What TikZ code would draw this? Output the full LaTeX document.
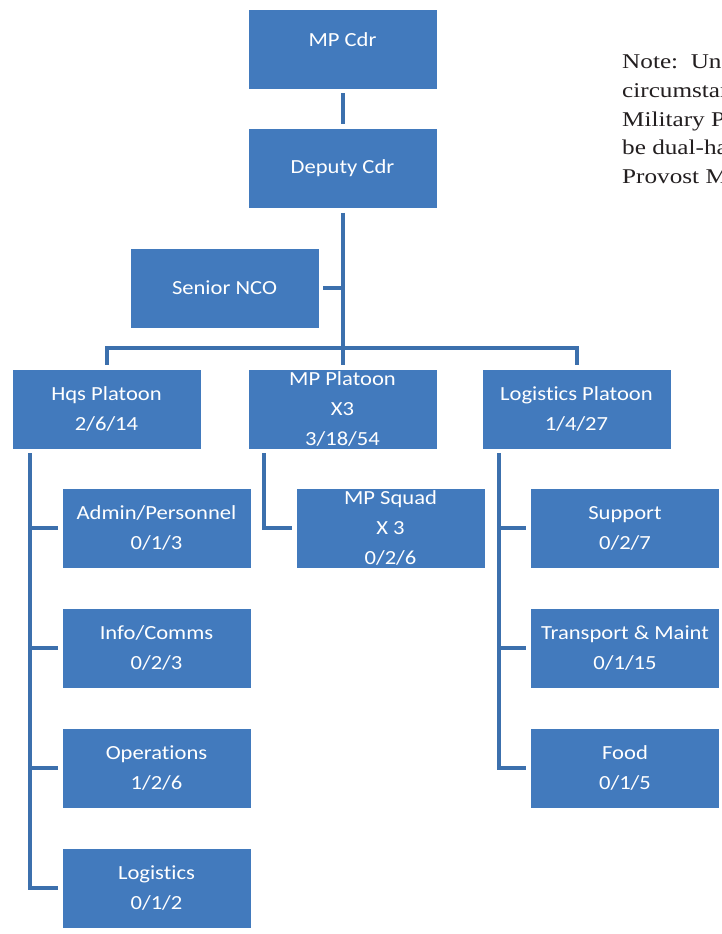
\documentclass[tikz,border=0pt]{standalone}
\usepackage{fontspec}
\setmainfont{Carlito}[FakeStretch=1.13,Ligatures=NoCommon]
\newfontfamily\notefont{Liberation Serif}[FakeStretch=1.2]
\definecolor{boxblue}{HTML}{427ABD}
\definecolor{lineblue}{HTML}{3C70AD}
\definecolor{notegray}{HTML}{231F20}
\begin{document}
\begin{tikzpicture}[x=1pt,y=-1pt,
  box/.style={fill=boxblue, draw=white, line width=0.6pt, minimum width=189pt, minimum height=80pt,
    inner sep=0pt, align=center, text=white, font=\fontsize{20}{30}\selectfont},
  lbl/.style={inner sep=0pt, align=center, text=white, font=\fontsize{20}{30}\selectfont},
  conn/.style={draw=lineblue, line width=4pt},
  note/.style={anchor=base west, inner sep=0pt, text=notegray, font=\notefont\fontsize{21}{28}\selectfont}]
\useasboundingbox (0,0) rectangle (721,934);
\fill[white] (0,0) rectangle (721,934);
% boxes
\node[box] (cdr) at (342.5,49) {};
\node[lbl] at (342.5,40) {MP Cdr};
\node[box] (dep) at (342.5,168.5) {Deputy Cdr};
\node[box] (nco) at (224.5,288) {Senior NCO};
\node[box] (hqs) at (106.5,409) {Hqs Platoon\\2/6/14};
\node[box] (mpp) at (342.5,409) {MP Platoon\\X3\\3/18/54};
\node[box] (lgp) at (576.5,409) {Logistics Platoon\\1/4/27};
\node[box] (adm) at (156.5,528) {Admin/Personnel\\0/1/3};
\node[box] (inf) at (156.5,648) {Info/Comms\\0/2/3};
\node[box] (ops) at (156.5,768) {Operations\\1/2/6};
\node[box] (lgx) at (156.5,888) {Logistics\\0/1/2};
\node[box] (sqd) at (390.5,528) {MP Squad\\X 3\\0/2/6};
\node[box] (sup) at (625,528) {Support\\0/2/7};
\node[box] (trn) at (625,648) {Transport \& Maint\\0/1/15};
\node[box] (fod) at (625,768) {Food\\0/1/5};
% note
\node[note] (n1) at (622,69) {Note:\ \ Un};
\node[note] (n2) at (622,97.5) {circumstan};
\node[note] (n3) at (622,126) {Military P};
\node[note] (n4) at (622,154.5) {be dual-ha};
\node[note] (n5) at (622,183) {Provost M};
% connectors
\draw[conn] ([yshift=-4pt]cdr.south) -- ([yshift=4pt]dep.north);
\coordinate (bar) at (342.5,348);
\draw[conn] ([yshift=-4pt]dep.south) -- (bar);
\draw[conn] ([xshift=4pt]nco.east) -- (nco.east -| bar);
\draw[conn] ([yshift=4pt]hqs.north) -- (hqs.north |- bar) -- (lgp.north |- bar) -- ([yshift=4pt]lgp.north);
\draw[conn] (bar) -- ([yshift=4pt]mpp.north);
% Hqs branch
\coordinate (hv) at ([xshift=18pt,yshift=-4pt]hqs.south west);
\draw[conn] (hv) |- ([xshift=-4pt]lgx.west);
\draw[conn] (hv |- adm.west) -- ([xshift=-4pt]adm.west);
\draw[conn] (hv |- inf.west) -- ([xshift=-4pt]inf.west);
\draw[conn] (hv |- ops.west) -- ([xshift=-4pt]ops.west);
% MP platoon branch
\coordinate (mv) at ([xshift=16pt,yshift=-4pt]mpp.south west);
\draw[conn] (mv) |- ([xshift=-4pt]sqd.west);
% Logistics branch
\coordinate (lv) at ([xshift=17pt,yshift=-4pt]lgp.south west);
\draw[conn] (lv) |- ([xshift=-4pt]fod.west);
\draw[conn] (lv |- sup.west) -- ([xshift=-4pt]sup.west);
\draw[conn] (lv |- trn.west) -- ([xshift=-4pt]trn.west);
\end{tikzpicture}
\end{document}
